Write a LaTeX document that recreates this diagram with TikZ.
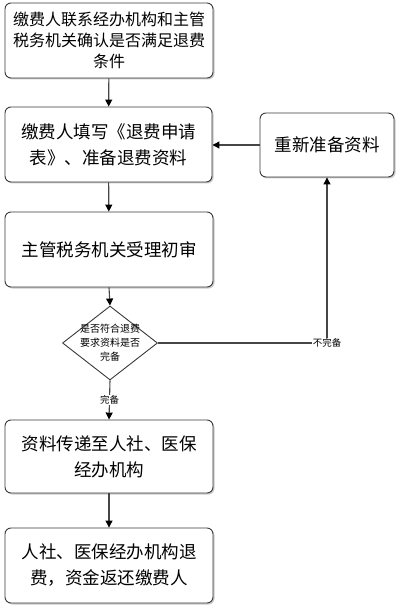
\documentclass[tikz,border=0pt]{standalone}
\usepackage{fontspec}
\newfontfamily\cjk{Noto Sans CJK SC}
\usetikzlibrary{shapes.geometric,arrows.meta,shadows}
\begin{document}
\begin{tikzpicture}[x=1pt,y=-1pt,
  box/.style={draw=gray!45!black, line width=0.9pt, rounded corners=6pt, fill=white,
    drop shadow={shadow xshift=1.5pt, shadow yshift=-1.5pt, fill=gray!70, opacity=0.6},
    align=center, inner sep=0pt},
  bigtext/.style={font=\cjk\fontsize{17.5}{26}\selectfont},
  conn/.style={draw=gray!55!black, line width=1.1pt, -{Triangle[length=7pt,width=7pt,color=black,fill=black]}},
  lbl/.style={font=\cjk\fontsize{9.5}{11}\selectfont, fill=white, inner sep=1pt}
]
\useasboundingbox (0,0) rectangle (401,612);
\node[box, minimum width=208pt, minimum height=75pt, font=\cjk\fontsize{16}{21}\selectfont] (b1) at (109,40.5) {缴费人联系经办机构和主管\\税务机关确认是否满足退费\\条件};
\node[box, bigtext, minimum width=207pt, minimum height=75pt] (b2) at (108.5,144.5) {缴费人填写《退费申请\\表》、准备退费资料};
\node[box, bigtext, minimum width=134pt, minimum height=64pt] (re) at (327,145) {重新准备资料};
\node[box, bigtext, minimum width=208pt, minimum height=75pt] (b3) at (109,249.5) {主管税务机关受理初审};
\node[diamond, draw=gray!45!black, line width=0.9pt, fill=white, minimum width=95pt, minimum height=74pt, inner sep=0pt] (d) at (110,343) {};
\node[font=\cjk\fontsize{10}{14}\selectfont, align=center, inner sep=0pt] (dt) at (d.center) {是否符合退费\\要求资料是否\\完备};
\node[box, bigtext, minimum width=208pt, minimum height=73pt] (b4) at (109,456.5) {资料传递至人社、医保\\经办机构};
\node[box, bigtext, minimum width=208pt, minimum height=75pt] (b5) at (109,565.5) {人社、医保经办机构退\\费，资金返还缴费人};
\draw[conn] (b1) -- (b2);
\draw[conn] (b2) -- (b3);
\draw[conn] (b3.south) -- (d.north);
\draw[conn] (d.south) -- node[lbl] {完备} (b4.north);
\draw[conn] (b4) -- (b5);
\draw[conn] (d.east) -| node[lbl, pos=0.5] {不完备} (re.south);
\draw[conn] (re.west) -- (b2.east |- re.west);
\end{tikzpicture}
\end{document}
